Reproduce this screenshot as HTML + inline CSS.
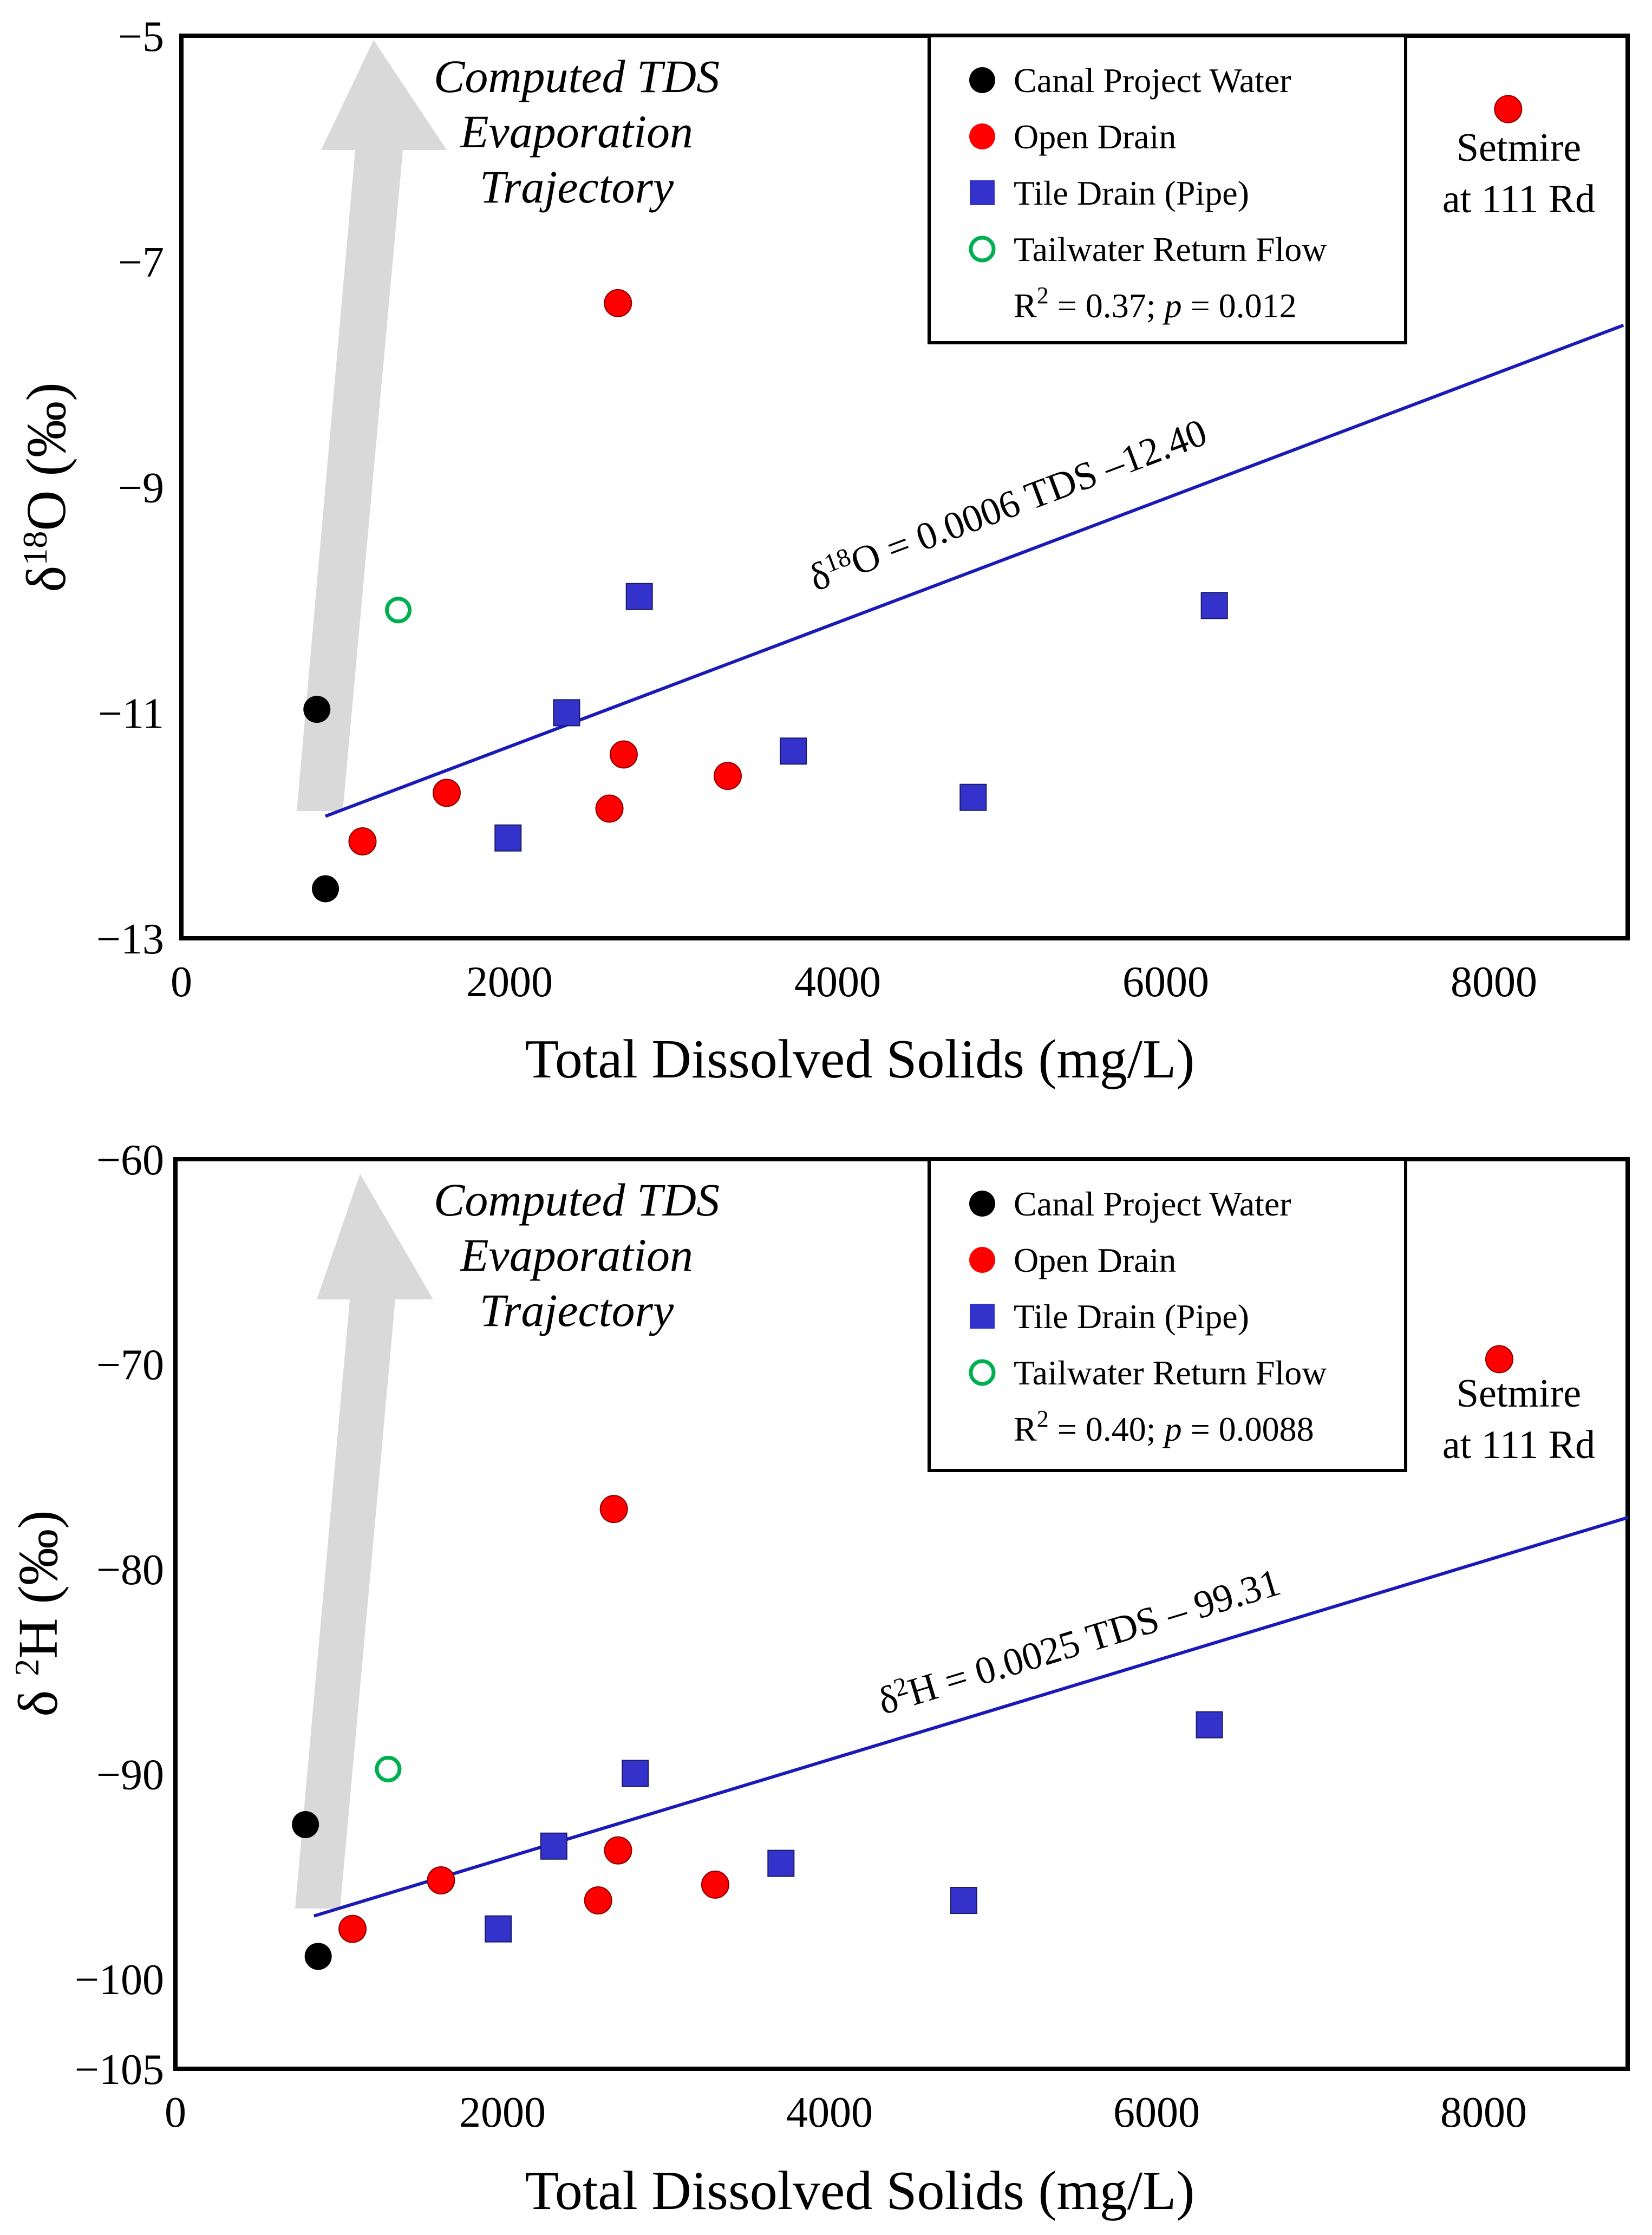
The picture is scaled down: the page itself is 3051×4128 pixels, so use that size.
<!DOCTYPE html>
<html><head><meta charset="utf-8"><style>
html,body{margin:0;padding:0;background:#fff}
svg{display:block}
text{font-family:"Liberation Serif",serif;fill:#000}
</style></head><body>
<svg id="chart" xmlns="http://www.w3.org/2000/svg" width="3051" height="4128" viewBox="0 0 3051 4128"></svg>
<script>
// ---- data: top panel (delta 18O) ----
const topCanalX=[826,878];
const topCanalY=[-10.97,-12.56];
const topOpenX=[1104,1617,2661,2696,2609,3330,8087];
const topOpenY=[-12.14,-11.71,-7.37,-11.37,-11.85,-11.56,-5.65];
const topTileX=[1991,2348,2791,3730,4826,6296];
const topTileY=[-12.11,-11.0,-9.97,-11.34,-11.75,-10.05];
const topTailX=[1322];
const topTailY=[-10.09];
const topFit=[0.00055,-12.40];
const topFitRange=[878,8790];
const topYTicks=[-5,-7,-9,-11,-13];
// ---- data: bottom panel (delta 2H) ----
const botCanalX=[795,873];
const botCanalY=[-92.47,-98.9];
const botOpenX=[1083,1624,2681,2707,2585,3301,8096];
const botOpenY=[-97.56,-95.19,-77.07,-93.73,-96.17,-95.4,-69.76];
const botTileX=[1974,2314,2812,3703,4821,6323];
const botTileY=[-97.56,-93.52,-89.97,-94.36,-96.17,-87.6];
const botTailX=[1301];
const botTailY=[-89.76];
const botFit=[0.00242,-98.98];
const botFitRange=[847,8882];
const botYTicks=[-60,-70,-80,-90,-100];
const xTicks=[0,2000,4000,6000,8000];

const NS="http://www.w3.org/2000/svg";
const svg=document.getElementById('chart');
function mk(tag,attrs,parent,txt){const e=document.createElementNS(NS,tag);for(const k in attrs)e.setAttribute(k,attrs[k]);if(txt!==undefined)e.textContent=txt;(parent||svg).appendChild(e);return e;}

function panel(o){
  const g=mk('g',{});
  
  
  const xs=v=>o.x0+v*o.xk, ys=v=>o.y0+(o.yTop-v)*o.yk;
  const ar=mk('polygon',{points:o.arrow,fill:'#d9d9d9'},g);
  
  
  const fr=mk('rect',{x:o.L,y:o.T,width:o.R-o.L,height:o.B-o.T,fill:'none',stroke:'#000','stroke-width':8},g);
  
  
  o.yTicks.forEach(v=>{
    const t=mk('text',{x:303,y:ys(v)+28,'text-anchor':'end','font-size':80},g,'\u2212'+Math.abs(v));
    
    
  });
  const lb=mk('text',{x:303,y:o.B+28,'text-anchor':'end','font-size':80},g,o.bottomLabel);
  
  
  xTicks.forEach(v=>{
    const t=mk('text',{x:xs(v),y:o.xLabY,'text-anchor':'middle','font-size':80},g,String(v));
    
    
  });
  const xt=mk('text',{x:1588,y:o.xTitleY,'text-anchor':'middle','font-size':102},g,'Total Dissolved Solids (mg/L)');
  
  
  const yt=mk('text',{x:0,y:0,'text-anchor':'middle','font-size':104,transform:`translate(${o.ytX},${o.ytY}) rotate(-90)`},g);
  
  
  yt.innerHTML=o.yTitle;
  const fl=mk('line',{x1:xs(o.fitR[0]),y1:ys(o.fit[0]*o.fitR[0]+o.fit[1]),x2:xs(o.fitR[1]),y2:ys(o.fit[0]*o.fitR[1]+o.fit[1]),stroke:'#1a1ab8','stroke-width':6},g);
  
  
  const eq=mk('text',{x:0,y:0,'text-anchor':'middle','font-size':72,transform:`translate(${o.eqX},${o.eqY}) rotate(${o.eqA})`},g);
  
  
  eq.innerHTML=o.eq;
  o.canal[0].forEach((x,i)=>{const c=mk('circle',{cx:xs(x),cy:ys(o.canal[1][i]),r:25,fill:'#000'},g);
    
    });
  o.open[0].forEach((x,i)=>{const c=mk('circle',{cx:xs(x),cy:ys(o.open[1][i]),r:25,fill:'#f00',stroke:'#800','stroke-width':2},g);
    
    });
  o.tile[0].forEach((x,i)=>{const c=mk('rect',{x:xs(x)-24,y:ys(o.tile[1][i])-24,width:48,height:48,fill:'#3333cc',stroke:'#1a1a66','stroke-width':2},g);
    
    });
  o.tail[0].forEach((x,i)=>{const c=mk('circle',{cx:xs(x),cy:ys(o.tail[1][i]),r:21,fill:'#fff',stroke:'#00b050','stroke-width':7},g);
    
    });
  ['Computed TDS','Evaporation','Trajectory'].forEach((s,i)=>{
    const t=mk('text',{x:1065,y:o.T+104+i*102,'text-anchor':'middle','font-size':86,'font-style':'italic'},g,s);
    
    
  });
  ['Setmire','at 111 Rd'].forEach((s,i)=>{
    const t=mk('text',{x:2805,y:o.setY+i*95,'text-anchor':'middle','font-size':74},g,s);
    
    
  });
  const lg=mk('g',{},g);
  
  
  mk('rect',{x:1716,y:o.T,width:880,height:o.legH,fill:'#fff',stroke:'#000','stroke-width':6},lg);
  const rows=['Canal Project Water','Open Drain','Tile Drain (Pipe)','Tailwater Return Flow'];
  rows.forEach((s,i)=>{
    const cy=o.T+82+i*104;
    let m;
    if(i===0)m=mk('circle',{cx:1814,cy:cy,r:24,fill:'#000'},lg);
    if(i===1)m=mk('circle',{cx:1814,cy:cy,r:24,fill:'#f00'},lg);
    if(i===2)m=mk('rect',{x:1791,y:cy-23,width:46,height:46,fill:'#3333cc'},lg);
    if(i===3)m=mk('circle',{cx:1814,cy:cy,r:21,fill:'#fff',stroke:'#00b050','stroke-width':7},lg);
    
    
    const t=mk('text',{x:1872,y:cy+22,'font-size':64},lg,s);
    
    
  });
  const st=mk('text',{x:1872,y:o.T+82+4*104+22,'font-size':64},lg);
  
  
  st.innerHTML=o.stats;
}

panel({name:'oxygen-panel',L:335,R:3006,T:66,B:1733,x0:335,xk:0.303,yTop:-5,y0:66,yk:208.4,
  yTicks:topYTicks,bottomLabel:'',xLabY:1840,xTitleY:1990,ytX:120,ytY:900,
  yTitle:'δ<tspan font-size="64" dy="-34">18</tspan><tspan dy="34">O (‰)</tspan>',
  fit:topFit,fitR:topFitRange,eqX:1870,eqY:955,eqA:-20.7,
  eq:'δ<tspan font-size="48" dy="-24">18</tspan><tspan dy="24">O = 0.0006 TDS –12.40</tspan>',
  canal:[topCanalX,topCanalY],open:[topOpenX,topOpenY],tile:[topTileX,topTileY],tail:[topTailX,topTailY],
  arrow:'548,1498 633,1498 744,277 825,277 690,74 593,277 656,277',
  setY:297,legH:567,
  stats:'R<tspan font-size="44" dy="-26">2</tspan><tspan dy="26"> = 0.37; </tspan><tspan font-style="italic">p</tspan> = 0.012'});

panel({name:'hydrogen-panel',L:324,R:3006,T:2141,B:3821,x0:324,xk:0.302,yTop:-60,y0:2141,yk:37.85,
  yTicks:botYTicks,bottomLabel:'\u2212105',xLabY:3928,xTitleY:4080,ytX:105,ytY:2980,
  yTitle:'δ <tspan font-size="64" dy="-34">2</tspan><tspan dy="34">H (‰)</tspan>',
  fit:botFit,fitR:botFitRange,eqX:2000,eqY:3055,eqA:-16.9,
  eq:'δ<tspan font-size="48" dy="-24">2</tspan><tspan dy="24">H = 0.0025 TDS – 99.31</tspan>',
  canal:[botCanalX,botCanalY],open:[botOpenX,botOpenY],tile:[botTileX,botTileY],tail:[botTailX,botTailY],
  arrow:'545,3525 628,3525 730,2400 800,2400 665,2168 585,2400 646,2400',
  setY:2598,legH:575,
  stats:'R<tspan font-size="44" dy="-26">2</tspan><tspan dy="26"> = 0.40; </tspan><tspan font-style="italic">p</tspan> = 0.0088'});
</script>
</body></html>
